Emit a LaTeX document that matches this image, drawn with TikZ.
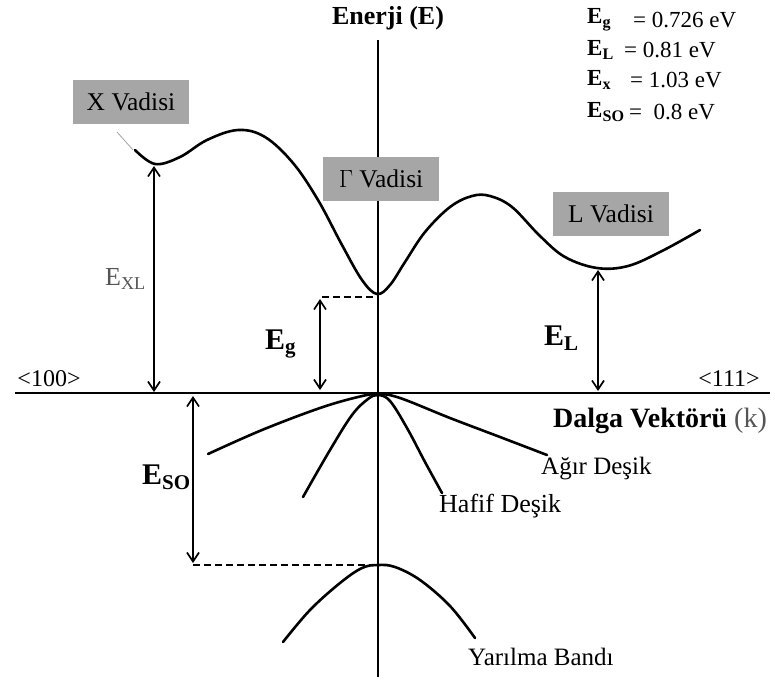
\documentclass[tikz,border=0pt]{standalone}
\usepackage{amsmath}
\usepackage{fontspec}
\setmainfont{Liberation Serif}
\usetikzlibrary{arrows.meta}
\definecolor{vgray}{HTML}{A6A6A6}
\definecolor{ltext}{HTML}{555555}
\begin{document}
\begin{tikzpicture}[x=1pt,y=-1pt,
  band/.style={line width=2.6pt, line cap=round, line join=round},
  axisline/.style={line width=2.4pt},
  tipb/.tip={Straight Barb[length=9pt,width=12pt]},
  dim/.style={line width=1.7pt, tipb-tipb},
  guide/.style={line width=1.6pt, dashed, dash pattern=on 7pt off 4pt},
  valley/.style={fill=vgray, inner sep=0pt, minimum width=116pt, minimum height=44pt, font=\fontsize{25.5}{28}\selectfont},
  txt/.style={font=\fontsize{25}{28}\selectfont, inner sep=0pt},
  big/.style={font=\fontsize{30}{32}\selectfont\bfseries, inner sep=0pt},
  leg/.style={font=\fontsize{23}{26}\selectfont, inner sep=0pt, anchor=west},
]
\useasboundingbox (0,0) rectangle (775,681);

% axes
\coordinate (vtop) at (378,40);
\coordinate (vbot) at (378,677);
\coordinate (hl) at (15,393);
\coordinate (hr) at (770,393);
\draw[axisline] (vtop) -- (vbot);
\draw[axisline] (hl) -- (hr);

\node[font=\fontsize{26}{28}\selectfont\bfseries, inner sep=0pt] (enerji) at (388,18) {Enerji (E)};
\node[font=\fontsize{24}{28}\selectfont, inner sep=0pt] (l100) at (49,379) {<100>};
\node[font=\fontsize{24}{28}\selectfont, inner sep=0pt] (l111) at (729,379) {<111>};
\node[font=\fontsize{28}{32}\selectfont, inner sep=0pt, anchor=west] (dalga) at (553,421) {\textbf{Dalga Vektörü} {\color{ltext}(k)}};

% legend
\node[leg] (lg1) at (587,20) {\textbf{E}$_{\textbf{g}}$};
\node[leg] (lv1) at (633,20) {= 0.726 eV};
\node[leg] (lg2) at (587,50) {\textbf{E}$_{\textbf{L}}$};
\node[leg] (lv2) at (624,50) {= 0.81 eV};
\node[leg] (lg3) at (587,80) {\textbf{E}$_{\textbf{x}}$};
\node[leg] (lv3) at (630,80) {= 1.03 eV};
\node[leg] (lg4) at (587,112) {\textbf{E}$_{\textbf{SO}}$};
\node[leg] (lv4) at (629,112) {= \ 0.8 eV};

% valley labels
\node[valley] (xv) at (131,102) {X Vadisi};
\node[valley] (gv) at (381,179) {$\Gamma$ Vadisi};
\node[valley] (lv) at (611,214) {L Vadisi};
\coordinate (xp1) at (117,132);
\coordinate (xp2) at (133,150);
\draw[vgray, line width=0.8pt] (xp1) -- (xp2);

% conduction band
\draw[band] plot[smooth, tension=0.6] coordinates {
 (135,150) (155,164) (180,157) (207,140) (238,130) (265,137) (293,163) (318,200)
 (342,245) (362,280) (377,294) (390,285) (405,262) (425,232) (450,207) (472,196)
 (490,196) (512,207) (540,236) (565,257) (597,268) (628,266) (662,251) (700,230)};

% valence bands
\draw[band] plot[smooth, tension=0.6] coordinates {
 (208,454) (262,430) (320,408) (358,397) (378,394) (400,398) (450,418) (500,437) (547,455)};
\draw[band] plot[smooth, tension=0.6] coordinates {
 (303,497) (330,450) (352,415) (368,399) (378,395) (390,401) (407,428) (425,462) (442,493)};
\draw[band] plot[smooth, tension=0.6] coordinates {
 (283,642) (310,610) (340,583) (362,568) (378,565) (395,567) (420,580) (450,606) (475,638)};

% E_X
\coordinate (ex1) at (154,166);
\coordinate (ex2) at (154,392);
\draw[dim] (ex1) -- (ex2);
\node[font=\fontsize{26}{30}\selectfont, inner sep=0pt, anchor=west, text=ltext] (exl) at (105,279) {E$_{\text{XL}}$};

% E_g
\coordinate (eg1) at (320,299);
\coordinate (eg2) at (320,390);
\coordinate (egd) at (376,297);
\draw[dim] (eg1) -- (eg2);
\draw[guide] (eg1 |- egd) ++(2,0) -- (egd);
\node[big, anchor=west] (egl) at (265,344) {E$_{\textbf{g}}$};

% E_L
\coordinate (el1) at (598,270);
\coordinate (el2) at (598,391);
\draw[dim] (el1) -- (el2);
\node[big, anchor=west] (ell) at (544,338) {E$_{\textbf{L}}$};

% E_SO
\coordinate (es1) at (193,396);
\coordinate (es2) at (193,563);
\coordinate (esd) at (376,565);
\draw[dim] (es1) -- (es2);
\draw[guide] (es2 |- esd) -- (esd);
\node[big, anchor=west] (esl) at (142,477) {E$_{\textbf{SO}}$};

% band labels
\node[txt, anchor=west] (agir) at (541,469) {Ağır Deşik};
\node[font=\fontsize{26}{28}\selectfont, inner sep=0pt, anchor=west] (hafif) at (439,506) {Hafif Deşik};
\node[txt, anchor=west] (yar) at (468,657) {Yarılma Bandı};
\end{tikzpicture}
\end{document}
